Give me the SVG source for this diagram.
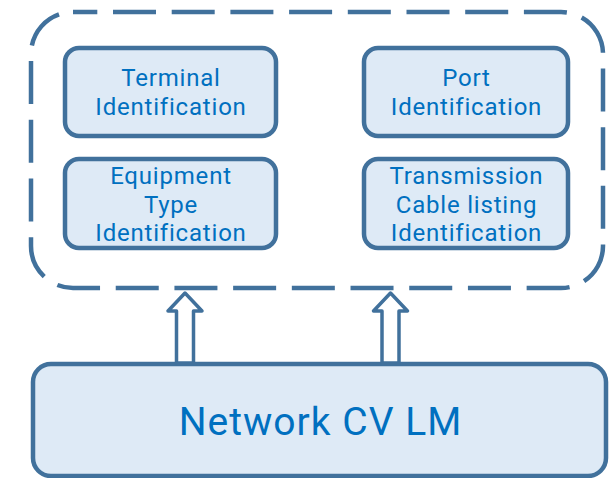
<svg xmlns="http://www.w3.org/2000/svg" width="611" height="478" viewBox="0 0 611 478">
<style>
.box{fill:#DEEAF6;stroke:#41719C;stroke-width:4.5}
.t{font-family:Roboto,"Noto Sans",sans-serif;fill:#0070C0;text-anchor:middle}
.s{font-size:24px;letter-spacing:0.8px}
.arrow{fill:#FFFFFF;stroke:#41719C;stroke-width:3.5;stroke-linejoin:round}
</style>
<rect width="611" height="478" fill="#FFFFFF"/>
<g id="group-outer">
<rect x="31" y="12" width="572" height="276" rx="42" ry="42" fill="none" stroke="#41719C" stroke-width="4.5" stroke-dasharray="43 15.7" stroke-dashoffset="18.7"/>
</g>
<g id="terminal">
<rect class="box" x="65" y="48" width="211" height="88" rx="14"/>
<text class="t s" x="171" y="86">Terminal<tspan x="171" dy="29">Identification</tspan></text>
</g>
<g id="port">
<rect class="box" x="364" y="48" width="204" height="88" rx="14"/>
<text class="t s" x="466.5" y="86">Port<tspan x="466.5" dy="29">Identification</tspan></text>
</g>
<g id="equipment">
<rect class="box" x="65" y="159" width="211" height="89" rx="14"/>
<text class="t s" x="171" y="184">Equipment<tspan x="171" dy="28.5">Type</tspan><tspan x="171" dy="28.5">Identification</tspan></text>
</g>
<g id="transmission">
<rect class="box" x="364" y="159" width="204" height="89" rx="14"/>
<text class="t s" x="466.5" y="184">Transmission<tspan x="466.5" dy="28.5">Cable listing</tspan><tspan x="466.5" dy="28.5">Identification</tspan></text>
</g>
<g id="network">
<rect class="box" x="33" y="364" width="573" height="112" rx="18"/>
<text class="t" x="320.5" y="435" font-size="39" letter-spacing="1">Network CV LM</text>
</g>
<g id="connectors">
<path class="arrow" d="M185,293 L202,311 L193.5,311 L193.5,363 L176.5,363 L176.5,311 L168,311 Z"/>
<path class="arrow" d="M390.5,293 L407.5,311 L399,311 L399,363 L382,363 L382,311 L373.5,311 Z"/>
</g>
</svg>
